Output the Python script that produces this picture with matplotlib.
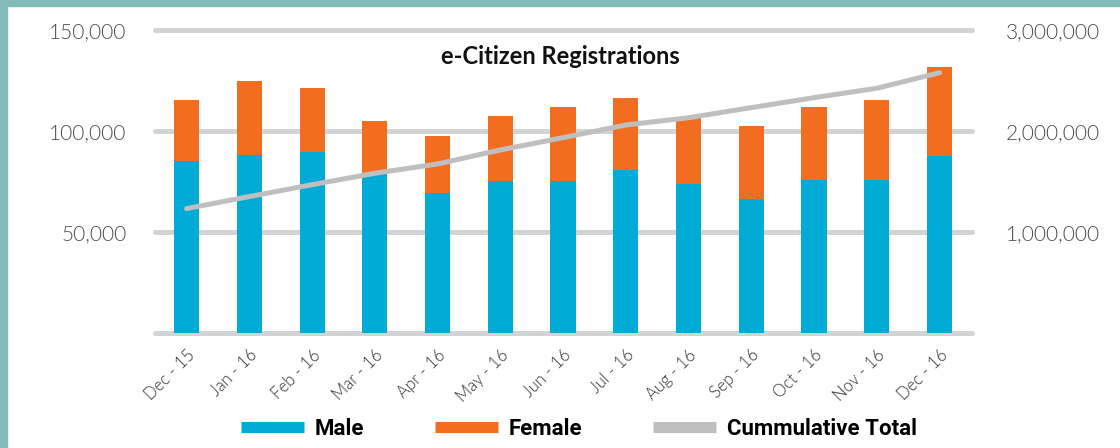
import matplotlib.pyplot as plt
from matplotlib.patches import Rectangle
from matplotlib.lines import Line2D
from matplotlib.ticker import FuncFormatter

months = ["Dec - 15", "Jan - 16", "Feb - 16", "Mar - 16", "Apr - 16", "May - 16", "Jun - 16",
          "Jul - 16", "Aug - 16", "Sep - 16", "Oct - 16", "Nov - 16", "Dec - 16"]
male = [85100, 88100, 89600, 79200, 69300, 75200, 75200, 80700, 73800, 66300, 75700, 75700, 87800]
total = [115300, 124800, 121300, 105000, 97500, 107400, 111900, 116300, 107000, 102500, 111900, 115300, 131700]
female = [t - m for t, m in zip(total, male)]
cumulative = [1231000, 1350000, 1468000, 1581000, 1673000, 1812000, 1934000,
              2059000, 2131000, 2231000, 2330000, 2423000, 2577000]

c_male = "#00ACD5"
c_female = "#F36D21"
c_line = "#BFBFBF"
c_grid = "#D2D3D5"
c_tick = "#4A4A4A"

fig = plt.figure(figsize=(11.2, 4.48), dpi=100)
ax = fig.add_axes([0.138, 0.257, 0.73, 0.676])
ax2 = ax.twinx()

x = list(range(len(months)))
ax.set_xlim(-0.51, 12.52)
ax.set_ylim(0, 150000)
ax2.set_ylim(0, 3000000)

for v in [0, 50000, 100000, 150000]:
    ax.axhline(v, color=c_grid, lw=3.6, solid_capstyle="round", zorder=0, clip_on=False)

ax.bar(x, male, width=0.4, color=c_male, zorder=2)
ax.bar(x, female, bottom=male, width=0.4, color=c_female, zorder=2)

ax2.plot(x, cumulative, color=c_line, lw=3.6, solid_capstyle="round", zorder=3)

for a in (ax, ax2):
    for s in a.spines.values():
        s.set_visible(False)
    a.tick_params(length=0)

ax.set_yticks([50000, 100000, 150000])
ax2.set_yticks([1000000, 2000000, 3000000])
fmt = FuncFormatter(lambda v, p: f"{int(v):,}")
ax.yaxis.set_major_formatter(fmt)
ax2.yaxis.set_major_formatter(fmt)
ax.tick_params(axis="y", pad=20, labelcolor=c_tick, labelsize=15)
ax2.tick_params(axis="y", pad=24, labelcolor=c_tick, labelsize=15)
for lab in ax.get_yticklabels() + ax2.get_yticklabels():
    lab.set_fontfamily("Lato")
    lab.set_fontweight(300)

ax.set_xticks(x)
ax.set_xticklabels(months, rotation=45, ha="right", rotation_mode="anchor",
                   fontfamily="Lato", fontweight=300, fontsize=12)
ax.tick_params(axis="x", pad=10, labelcolor="#333333")

fig.text(0.5, 0.873, "e-Citizen Registrations", ha="center", va="center",
         fontfamily="Lato", fontweight="bold", fontsize=17, color="#111111")

handles = [Line2D([], [], color=c_male, lw=8, solid_capstyle="butt"),
           Line2D([], [], color=c_female, lw=8, solid_capstyle="butt"),
           Line2D([], [], color=c_line, lw=8, solid_capstyle="butt")]
fig.legend(handles, ["Male", "Female", "Cummulative Total"], loc="center",
           bbox_to_anchor=(0.517, 0.042), ncol=3, frameon=False, handlelength=2.8,
           handletextpad=0.5, columnspacing=3.2,
           prop={"family": "Roboto", "weight": "bold", "size": 16})

# teal frame on top and left
fig.patches.append(Rectangle((0, 1 - 6 / 448), 1, 6 / 448, transform=fig.transFigure,
                             color="#83BBB8", zorder=10))
fig.patches.append(Rectangle((0, 0), 7 / 1120, 1, transform=fig.transFigure,
                             color="#83BBB8", zorder=10))

fig.savefig("out.png", dpi=100)
